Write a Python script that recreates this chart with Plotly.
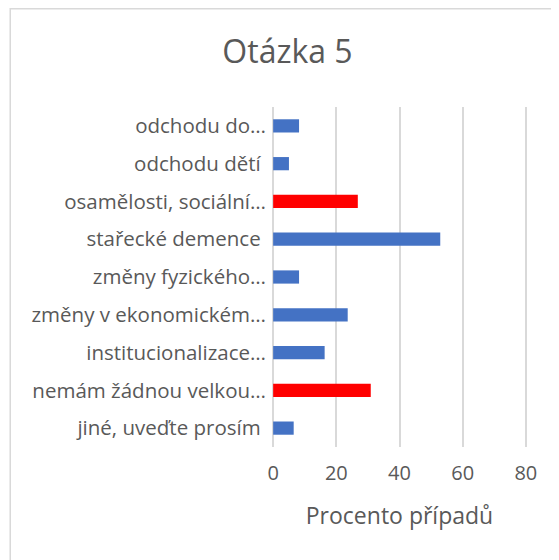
import plotly.graph_objects as go

categories = [
    "odchodu do…",
    "odchodu dětí\u00a0",
    "osamělosti, sociální…",
    "stařecké demence\u00a0",
    "změny fyzického…",
    "změny v ekonomickém…",
    "institucionalizace…",
    "nemám žádnou velkou…",
    "jiné, uveďte prosím\u00a0",
]
values = [8.2, 5.0, 26.8, 52.9, 8.2, 23.6, 16.3, 30.9, 6.5]
highlight = [False, False, True, False, False, False, False, True, False]
x_ticks = [0, 20, 40, 60, 80]

colors = ["#FF0000" if h else "#4472C4" for h in highlight]
FONT = "Open Sans, sans-serif"
TXT = "#595959"

# page body has an 8px offset; plot area in figure coords
PX = 253 / 80          # pixels per unit
PAD = 1.0              # axis padding in data units so edge gridlines are drawn
L, T, W, H = 265 - PAD * PX, 99, 253 + 2 * PAD * PX, 340
FW, FH = 559, 560

fig = go.Figure(go.Bar(
    x=values, y=categories, orientation="h",
    marker=dict(color=colors, line=dict(width=0)),
    hoverinfo="x+y",
))

fig.update_layout(
    width=FW, height=FH,
    margin=dict(l=L, r=FW - L - W, t=T, b=FH - T - H, autoexpand=False),
    paper_bgcolor="white", plot_bgcolor="white",
    font=dict(family=FONT, color=TXT),
    title=dict(text="Otázka 5", x=0.5, xanchor="center",
               y=1 - 44 / FH, yanchor="middle",
               font=dict(size=32, color=TXT, family=FONT)),
    bargap=0.65,
    showlegend=False,
    shapes=[dict(type="rect", xref="paper", yref="paper",
                 x0=(1.75 - L) / W, x1=2, y0=-2, y1=1 + (T - 0.75) / H,
                 line=dict(color="#D9D9D9", width=1.5), fillcolor="rgba(0,0,0,0)", layer="below")],
)
fig.update_xaxes(
    range=[-PAD, 80 + PAD], tickvals=x_ticks, showgrid=True, gridcolor="#D9D9D9", gridwidth=1.5,
    zeroline=False, showline=False, ticks="", tickfont=dict(size=20, color=TXT),
    ticklabelstandoff=12, automargin=False,
    title=dict(text="Procento případů", font=dict(size=23, color=TXT), standoff=22),
)
fig.update_yaxes(
    autorange="reversed", showgrid=False, zeroline=False, showline=False, ticks="",
    tickfont=dict(size=20.5, color=TXT), ticklabelstandoff=3, automargin=False,
)

fig.write_html("out.html")
